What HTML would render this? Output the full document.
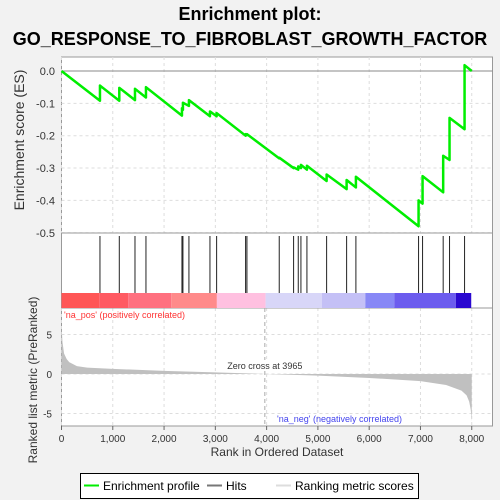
<!DOCTYPE html>
<html><head><meta charset="utf-8"><style>
body{margin:0;background:#f2f2f2;}
svg{display:block;font-family:"Liberation Sans",sans-serif;}
</style></head><body>
<svg id="c" width="500" height="500" viewBox="0 0 500 500">
<text x="250" y="20" text-anchor="middle" font-size="18" font-weight="bold">Enrichment plot:</text>
<text x="250" y="45" text-anchor="middle" font-size="18" font-weight="bold">GO_RESPONSE_TO_FIBROBLAST_GROWTH_FACTOR</text>
<rect x="61.5" y="57" width="431" height="369" fill="#fff" stroke="#999"/>
<g id="grid"></g>
<g id="bar"></g>
<g id="hits"></g>
<g id="metric"></g>
<g id="es"></g>
<g id="axes"></g>
<text transform="translate(24,140) rotate(-90)" text-anchor="middle" font-size="14" fill="#333">Enrichment score (ES)</text>
<text transform="translate(37,380) rotate(-90)" text-anchor="middle" font-size="12" fill="#333">Ranked list metric (PreRanked)</text>
<text x="277" y="456" text-anchor="middle" font-size="12" fill="#333">Rank in Ordered Dataset</text>
<text x="64" y="318" font-size="9" fill="#ff3333">'na_pos' (positively correlated)</text>
<text x="277" y="422" font-size="9" fill="#4444ee">'na_neg' (negatively correlated)</text>
<g>
<rect x="80.5" y="473.5" width="338" height="25" fill="#fff" stroke="#000"/>
<line x1="84" y1="485.5" x2="99" y2="485.5" stroke="#00ee00" stroke-width="2"/>
<text x="103" y="490" font-size="12">Enrichment profile</text>
<line x1="207" y1="485.5" x2="222" y2="485.5" stroke="#777" stroke-width="2"/>
<text x="226" y="490" font-size="12">Hits</text>
<line x1="276" y1="485.5" x2="291" y2="485.5" stroke="#ddd" stroke-width="2"/>
<text x="295" y="490" font-size="12">Ranking metric scores</text>
</g>
</svg>
<script>
const hitRanks=[750,1127,1433,1647,2349,2368,2485,2895,3025,3590,3616,4246,4526,4617,4669,4786,5170,5560,5741,6963,7041,7443,7567,7860];
const esBefore=[-0.092,-0.092,-0.09,-0.082,-0.138,-0.12,-0.108,-0.14,-0.14,-0.2,-0.198,-0.27,-0.3,-0.305,-0.3,-0.305,-0.34,-0.365,-0.36,-0.48,-0.41,-0.375,-0.275,-0.18];
const esAfter=[-0.045,-0.052,-0.055,-0.05,-0.115,-0.098,-0.09,-0.125,-0.13,-0.195,-0.195,-0.268,-0.298,-0.295,-0.29,-0.293,-0.32,-0.337,-0.327,-0.4,-0.325,-0.262,-0.145,0.018];
const esEnd=0.0;
const metricRanks=[0,20,50,100,150,300,500,1000,2000,3000,3965,5000,6000,7000,7500,7800,7900,7950,7980,8000];
const metricVals=[6,4,2.6,1.9,1.5,1.0,0.8,0.65,0.4,0.2,0,-0.2,-0.5,-0.9,-1.4,-2.1,-2.7,-3.5,-4.5,-6];
const xTicks=[0,1000,2000,3000,4000,5000,6000,7000,8000];
const esTicks=[0,-0.1,-0.2,-0.3,-0.4,-0.5];
const mTicks=[5,0,-5];
const barStops=[0,737,1300,2140,3030,3980,5080,5925,6490,7690,7990];
const barColors=['#ff5656','#ff5a62','#ff707f','#ff8a8a','#ffc0e0','#d8d6f8','#c4c0f6','#8888f6','#6c5cee','#2a08d0'];
const NS='http://www.w3.org/2000/svg';
const X=r=>61.5+r*0.05128;
const YE=v=>71-v*323.5;
const YM=v=>374-v*7.9;
function mk(t,a,p){const e=document.createElementNS(NS,t);for(const k in a)e.setAttribute(k,a[k]);document.getElementById(p).appendChild(e);return e;}
xTicks.forEach(t=>{
 let g=mk('line',{x1:X(t),x2:X(t),y1:57,y2:233,stroke:'#ddd','stroke-dasharray':'3,3'},'grid');
 
 
 let g2=mk('line',{x1:X(t),x2:X(t),y1:308,y2:426,stroke:'#ddd','stroke-dasharray':'3,3'},'grid');
 
 
 let tk=mk('line',{x1:X(t),x2:X(t),y1:426,y2:430,stroke:'#666'},'axes');
 
 
 let tx=mk('text',{x:X(t),y:442,'text-anchor':'middle','font-size':10,fill:'#333'},'axes');
 tx.textContent=t.toLocaleString('en-US');
 
 
});
esTicks.forEach(t=>{
 let g=mk('line',{x1:61.5,x2:492.5,y1:YE(t),y2:YE(t),stroke:t===0?'#888':'#ddd','stroke-dasharray':t===0?'':'3,3'},'grid');
 
 
 let tx=mk('text',{x:55,y:YE(t)+4,'text-anchor':'end','font-size':11,fill:'#333'},'axes');
 tx.textContent=t.toFixed(1);
 
 
});
mTicks.forEach(t=>{
 let g=mk('line',{x1:61.5,x2:492.5,y1:YM(t),y2:YM(t),stroke:'#ddd','stroke-dasharray':'3,3'},'grid');
 
 
 let tx=mk('text',{x:52,y:YM(t)+4,'text-anchor':'end','font-size':10,fill:'#333'},'axes');
 tx.textContent=t;
 
 
});
let sep=mk('line',{x1:61.5,x2:492.5,y1:233,y2:233,stroke:'#999'},'grid');


let sep2=mk('line',{x1:61.5,x2:492.5,y1:308,y2:308,stroke:'#999'},'grid');


let zc=mk('line',{x1:X(3965),x2:X(3965),y1:308,y2:426,stroke:'#aaa','stroke-dasharray':'4,3'},'grid');


let zt=mk('rect',{x:X(3965)-40,y:360,width:80,height:11,fill:'#fff'},'grid');


let ztx=mk('text',{x:X(3965),y:369,'text-anchor':'middle','font-size':9,fill:'#333'},'grid');
ztx.textContent='Zero cross at 3965';


for(let i=0;i<barColors.length;i++){
 let r=mk('rect',{x:X(barStops[i]),y:293,width:X(barStops[i+1])-X(barStops[i]),height:15,fill:barColors[i]},'bar');
 
 
}
hitRanks.forEach(h=>{
 let l=mk('line',{x1:X(h),x2:X(h),y1:236,y2:293,stroke:'#222','stroke-width':1},'hits');
 
 
});
let d='M'+X(0)+','+YM(0);
metricRanks.forEach((r,i)=>{d+=' L'+X(r)+','+YM(metricVals[i]);});
d+=' L'+X(8000)+','+YM(0)+'Z';
let mp=mk('path',{d:d,fill:'#c0c0c0',stroke:'none'},'metric');


let ed='M'+X(0)+','+YE(0);
hitRanks.forEach((h,i)=>{ed+=' L'+X(h)+','+YE(esBefore[i])+' L'+X(h)+','+YE(esAfter[i]);});
ed+=' L'+X(8000)+','+YE(esEnd);
let ep=mk('path',{d:ed,fill:'none',stroke:'#00ee00','stroke-width':2.5,'stroke-linejoin':'round'},'es');


</script>
</body></html>
